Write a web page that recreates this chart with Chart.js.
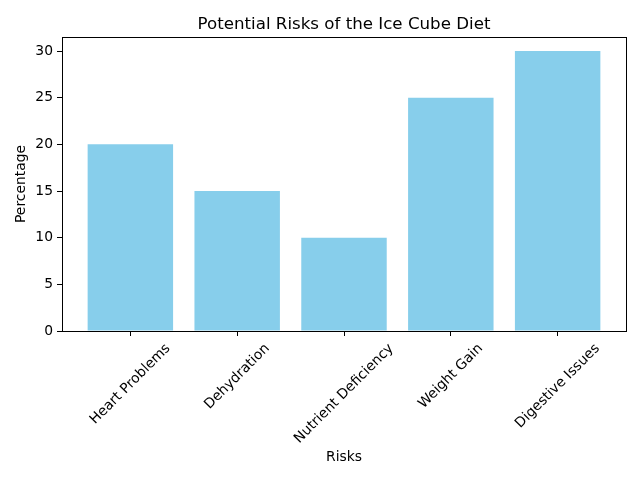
<!DOCTYPE html>
<html><head><meta charset="utf-8">
<script src="https://cdn.jsdelivr.net/npm/chart.js@4/dist/chart.umd.min.js"></script>
<style>html,body{margin:0;padding:0;background:#fff}#wrap{width:640px;height:480px}</style>
</head><body><div id="wrap"><canvas id="c" width="640" height="480"></canvas></div>
<script>
const categories = ["Heart Problems", "Dehydration", "Nutrient Deficiency", "Weight Gain", "Digestive Issues"];
const percentages = [20, 15, 10, 25, 30];
const yTicks = [0, 5, 10, 15, 20, 25, 30];

const FONT = "DejaVu Sans";
const TICK_PX = 13.89;

const frameAndLabels = {
  id: 'frameAndLabels',
  afterDraw(chart) {
    const ctx = chart.ctx, a = chart.chartArea, xs = chart.scales.x;
    ctx.save();
    ctx.strokeStyle = '#000'; ctx.lineWidth = 1;
    ctx.strokeRect(Math.round(a.left) + 0.5, Math.round(a.top) + 0.5, Math.round(a.right - a.left), Math.round(a.bottom - a.top));
    ctx.font = TICK_PX + "px '" + FONT + "'";
    ctx.fillStyle = '#000';
    const h = 16;
    const top = a.bottom + 9.7;
    categories.forEach((lab, i) => {
      const x = xs.getPixelForValue(i);
      const w = ctx.measureText(lab).width;
      const bh = (w + h) * Math.SQRT1_2;
      ctx.save();
      ctx.translate(x, top + bh / 2);
      ctx.rotate(-Math.PI / 4);
      ctx.textAlign = 'center'; ctx.textBaseline = 'middle';
      ctx.fillText(lab, 0, 0);
      ctx.restore();
    });
    ctx.restore();
  }
};

new Chart(document.getElementById('c'), {
  type: 'bar',
  data: {
    datasets: [{
      data: percentages.map((v, i) => ({x: i, y: v})),
      backgroundColor: '#87CEEB',
      borderWidth: 0,
      inflateAmount: 0,
      categoryPercentage: 1,
      barPercentage: 0.8
    }]
  },
  options: {
    responsive: false,
    animation: false,
    devicePixelRatio: 1,
    layout: {padding: {left: 0, right: 14, top: 0, bottom: 0}},
    plugins: {
      legend: {display: false},
      tooltip: {enabled: false},
      title: {
        display: true,
        text: 'Potential Risks of the Ice Cube Diet',
        fullSize: false,
        color: '#000',
        font: {family: FONT, size: 16.67, weight: 'normal'},
        padding: {top: 15, bottom: 2}
      }
    },
    scales: {
      x: {
        type: 'linear',
        offset: false,
        min: -0.64, max: 4.64,
        afterBuildTicks: s => { s.ticks = categories.map((c, i) => ({value: i})); },
        afterFit: s => { s.height = 149; },
        ticks: {display: false},
        grid: {display: true, offset: false, drawOnChartArea: false, drawTicks: true, tickLength: 5, tickColor: '#000', tickWidth: 1},
        border: {display: true, color: '#000', width: 1},
        title: {display: true, text: 'Risks', color: '#000', font: {family: FONT, size: TICK_PX}, padding: {top: 0, bottom: 14.7}}
      },
      y: {
        type: 'linear',
        min: 0, max: 31.5,
        afterBuildTicks: s => { s.ticks = yTicks.map(v => ({value: v})); },
        afterFit: s => { s.width = 62; },
        ticks: {color: '#000', font: {family: FONT, size: TICK_PX}, padding: 4},
        grid: {display: true, drawOnChartArea: false, drawTicks: true, tickLength: 5, tickColor: '#000', tickWidth: 1},
        border: {display: true, color: '#000', width: 1},
        title: {display: true, text: 'Percentage', color: '#000', font: {family: FONT, size: TICK_PX}, padding: {top: 12.7, bottom: 0}}
      }
    }
  },
  plugins: [frameAndLabels]
});
</script></body></html>
